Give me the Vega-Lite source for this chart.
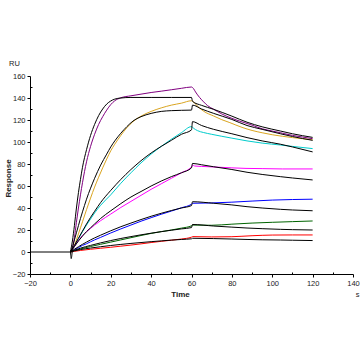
{
"$schema": "https://vega.github.io/schema/vega-lite/v6.json",
"width": 323, "height": 198,
"autosize": {"type": "none"},
"padding": {"left": 30, "top": 76, "right": 9, "bottom": 88},
"background": "white",
"config": {"view": {"stroke": null}, "font": "Liberation Sans"},
"datasets": {
"measured": [
{"series":"D1","time":0,"response":0},{"series":"D1","time":1,"response":4},{"series":"D1","time":2,"response":13},{"series":"D1","time":3,"response":27},{"series":"D1","time":4,"response":40},{"series":"D1","time":5,"response":52},{"series":"D1","time":6,"response":63},{"series":"D1","time":8,"response":82},{"series":"D1","time":10,"response":96},{"series":"D1","time":12,"response":107},{"series":"D1","time":14,"response":116},{"series":"D1","time":16,"response":123},{"series":"D1","time":18,"response":129},{"series":"D1","time":20,"response":134},{"series":"D1","time":22,"response":137.5},{"series":"D1","time":25,"response":140.2},{"series":"D1","time":30,"response":142},{"series":"D1","time":35,"response":143.5},{"series":"D1","time":40,"response":145},{"series":"D1","time":45,"response":146.2},{"series":"D1","time":50,"response":147.5},{"series":"D1","time":55,"response":148.8},{"series":"D1","time":60,"response":150},{"series":"D1","time":61,"response":148.5},{"series":"D1","time":62,"response":145.5},{"series":"D1","time":64,"response":140.5},{"series":"D1","time":66,"response":136.5},{"series":"D1","time":68,"response":133},{"series":"D1","time":71,"response":129.7},{"series":"D1","time":75,"response":125.5},{"series":"D1","time":80,"response":121.5},{"series":"D1","time":85,"response":118.3},{"series":"D1","time":90,"response":115.3},{"series":"D1","time":95,"response":112},{"series":"D1","time":100,"response":110},{"series":"D1","time":105,"response":108},{"series":"D1","time":110,"response":106},{"series":"D1","time":115,"response":104.5},{"series":"D1","time":120,"response":103},
{"series":"D2","time":0,"response":0},{"series":"D2","time":1,"response":2},{"series":"D2","time":2,"response":6},{"series":"D2","time":3,"response":11},{"series":"D2","time":4,"response":16.5},{"series":"D2","time":5,"response":22},{"series":"D2","time":6,"response":27.5},{"series":"D2","time":8,"response":38.5},{"series":"D2","time":10,"response":49},{"series":"D2","time":12,"response":59},{"series":"D2","time":14,"response":68},{"series":"D2","time":16,"response":76.5},{"series":"D2","time":18,"response":84.5},{"series":"D2","time":20,"response":92},{"series":"D2","time":22,"response":98},{"series":"D2","time":25,"response":106},{"series":"D2","time":28,"response":113},{"series":"D2","time":31,"response":118.5},{"series":"D2","time":35,"response":123.5},{"series":"D2","time":40,"response":127.8},{"series":"D2","time":45,"response":131},{"series":"D2","time":50,"response":133.5},{"series":"D2","time":55,"response":135.3},{"series":"D2","time":60,"response":137.5},{"series":"D2","time":61,"response":136.4},{"series":"D2","time":63,"response":132.5},{"series":"D2","time":66,"response":128},{"series":"D2","time":71,"response":123.6},{"series":"D2","time":75,"response":120.3},{"series":"D2","time":79,"response":117.6},{"series":"D2","time":85,"response":113.3},{"series":"D2","time":90,"response":110.5},{"series":"D2","time":95,"response":108.4},{"series":"D2","time":100,"response":106.6},{"series":"D2","time":105,"response":105.2},{"series":"D2","time":110,"response":104},{"series":"D2","time":115,"response":103},{"series":"D2","time":120,"response":102},
{"series":"D3","time":0,"response":0},{"series":"D3","time":2,"response":5},{"series":"D3","time":4,"response":12},{"series":"D3","time":6,"response":18.5},{"series":"D3","time":8,"response":24.5},{"series":"D3","time":10,"response":30},{"series":"D3","time":12,"response":35.5},{"series":"D3","time":15,"response":42.5},{"series":"D3","time":20,"response":52},{"series":"D3","time":25,"response":62.5},{"series":"D3","time":30,"response":72},{"series":"D3","time":35,"response":81},{"series":"D3","time":40,"response":89},{"series":"D3","time":45,"response":96},{"series":"D3","time":50,"response":102.5},{"series":"D3","time":55,"response":108.5},{"series":"D3","time":60,"response":114},{"series":"D3","time":61,"response":112.5},{"series":"D3","time":63,"response":110.3},{"series":"D3","time":66,"response":108.6},{"series":"D3","time":70,"response":107},{"series":"D3","time":80,"response":103.5},{"series":"D3","time":87.5,"response":101},{"series":"D3","time":95,"response":99},{"series":"D3","time":104,"response":97.3},{"series":"D3","time":110,"response":96},{"series":"D3","time":120,"response":94},
{"series":"D4","time":0,"response":0},{"series":"D4","time":2,"response":5},{"series":"D4","time":4,"response":10.5},{"series":"D4","time":6,"response":15},{"series":"D4","time":8,"response":18.5},{"series":"D4","time":10,"response":21.5},{"series":"D4","time":12,"response":24.5},{"series":"D4","time":15,"response":28.5},{"series":"D4","time":20,"response":34.5},{"series":"D4","time":25,"response":40.5},{"series":"D4","time":30,"response":46},{"series":"D4","time":35,"response":51.5},{"series":"D4","time":40,"response":57},{"series":"D4","time":45,"response":62},{"series":"D4","time":50,"response":67},{"series":"D4","time":55,"response":72},{"series":"D4","time":60,"response":77.5},{"series":"D4","time":60.5,"response":79},{"series":"D4","time":61.5,"response":78.2},{"series":"D4","time":65,"response":77.8},{"series":"D4","time":71,"response":77.3},{"series":"D4","time":80,"response":76.5},{"series":"D4","time":87,"response":76},{"series":"D4","time":95,"response":75.8},{"series":"D4","time":105,"response":75.5},{"series":"D4","time":120,"response":75.5},
{"series":"D5","time":0,"response":0},{"series":"D5","time":2,"response":2},{"series":"D5","time":4,"response":4},{"series":"D5","time":6,"response":6},{"series":"D5","time":8,"response":7.5},{"series":"D5","time":10,"response":9.3},{"series":"D5","time":12,"response":11},{"series":"D5","time":15,"response":13.3},{"series":"D5","time":20,"response":17.3},{"series":"D5","time":25,"response":21},{"series":"D5","time":30,"response":24.5},{"series":"D5","time":35,"response":28},{"series":"D5","time":40,"response":31.2},{"series":"D5","time":45,"response":34.3},{"series":"D5","time":50,"response":37.2},{"series":"D5","time":55,"response":40.2},{"series":"D5","time":60,"response":43.5},{"series":"D5","time":60.5,"response":44.3},{"series":"D5","time":70,"response":44.6},{"series":"D5","time":80,"response":45.3},{"series":"D5","time":90,"response":46.3},{"series":"D5","time":100,"response":47.2},{"series":"D5","time":110,"response":47.7},{"series":"D5","time":120,"response":48},
{"series":"D6","time":0,"response":0},{"series":"D6","time":2,"response":1.2},{"series":"D6","time":5,"response":2.8},{"series":"D6","time":10,"response":5},{"series":"D6","time":15,"response":7},{"series":"D6","time":20,"response":9},{"series":"D6","time":25,"response":11},{"series":"D6","time":30,"response":13},{"series":"D6","time":35,"response":15},{"series":"D6","time":40,"response":16.9},{"series":"D6","time":45,"response":18.5},{"series":"D6","time":50,"response":20},{"series":"D6","time":55,"response":21.7},{"series":"D6","time":60,"response":23.8},{"series":"D6","time":60.5,"response":24.5},{"series":"D6","time":70,"response":24.3},{"series":"D6","time":80,"response":25.3},{"series":"D6","time":90,"response":26.3},{"series":"D6","time":100,"response":27},{"series":"D6","time":110,"response":27.6},{"series":"D6","time":120,"response":28.2},
{"series":"D7","time":0,"response":0},{"series":"D7","time":2,"response":0.6},{"series":"D7","time":5,"response":1.4},{"series":"D7","time":10,"response":2.5},{"series":"D7","time":15,"response":3.4},{"series":"D7","time":20,"response":4.3},{"series":"D7","time":25,"response":5.3},{"series":"D7","time":30,"response":6.3},{"series":"D7","time":35,"response":7.4},{"series":"D7","time":40,"response":8.6},{"series":"D7","time":45,"response":9.7},{"series":"D7","time":50,"response":10.7},{"series":"D7","time":55,"response":11.8},{"series":"D7","time":60,"response":13.5},{"series":"D7","time":60.5,"response":14},{"series":"D7","time":70,"response":13.7},{"series":"D7","time":80,"response":13.9},{"series":"D7","time":90,"response":14.8},{"series":"D7","time":100,"response":15.4},{"series":"D7","time":110,"response":15.5},{"series":"D7","time":120,"response":15.5}
],
"fit": [
{"series":"B","time":-20,"response":0},{"series":"B","time":0,"response":0},{"series":"B","time":0.4,"response":-6},{"series":"B","time":0.9,"response":0},
{"series":"F1","time":0,"response":0},{"series":"F1","time":1,"response":10},{"series":"F1","time":2,"response":24},{"series":"F1","time":3,"response":40},{"series":"F1","time":4,"response":54},{"series":"F1","time":5,"response":66},{"series":"F1","time":6,"response":77},{"series":"F1","time":8,"response":93},{"series":"F1","time":10,"response":106},{"series":"F1","time":12,"response":116},{"series":"F1","time":14,"response":124},{"series":"F1","time":16,"response":130},{"series":"F1","time":18,"response":134.5},{"series":"F1","time":20,"response":137.3},{"series":"F1","time":22,"response":139},{"series":"F1","time":25,"response":140},{"series":"F1","time":30,"response":140.5},{"series":"F1","time":40,"response":140.5},{"series":"F1","time":50,"response":140.5},{"series":"F1","time":60,"response":140.5},{"series":"F1","time":60.5,"response":137},{"series":"F1","time":65,"response":133.3},{"series":"F1","time":71,"response":129.7},{"series":"F1","time":80,"response":123.5},{"series":"F1","time":87.5,"response":118},{"series":"F1","time":95,"response":113.8},{"series":"F1","time":104,"response":110},{"series":"F1","time":110,"response":107.5},{"series":"F1","time":120,"response":104.2},
{"series":"F2","time":0,"response":0},{"series":"F2","time":1,"response":4},{"series":"F2","time":2,"response":11},{"series":"F2","time":3,"response":17.5},{"series":"F2","time":4,"response":24},{"series":"F2","time":5,"response":30.5},{"series":"F2","time":6,"response":36.5},{"series":"F2","time":8,"response":48},{"series":"F2","time":10,"response":58},{"series":"F2","time":12,"response":67},{"series":"F2","time":15,"response":79},{"series":"F2","time":18,"response":89},{"series":"F2","time":20,"response":95.5},{"series":"F2","time":22,"response":101},{"series":"F2","time":25,"response":108},{"series":"F2","time":28,"response":114},{"series":"F2","time":31,"response":119},{"series":"F2","time":35,"response":123},{"series":"F2","time":40,"response":126},{"series":"F2","time":45,"response":127.8},{"series":"F2","time":50,"response":128.5},{"series":"F2","time":55,"response":128.8},{"series":"F2","time":60,"response":129},{"series":"F2","time":60.5,"response":133.5},{"series":"F2","time":65,"response":130},{"series":"F2","time":71,"response":126},{"series":"F2","time":80,"response":120.5},{"series":"F2","time":87.5,"response":115},{"series":"F2","time":95,"response":111.5},{"series":"F2","time":104,"response":107.5},{"series":"F2","time":110,"response":105},{"series":"F2","time":120,"response":101.5},
{"series":"F3","time":0,"response":0},{"series":"F3","time":2,"response":6},{"series":"F3","time":4,"response":12.5},{"series":"F3","time":6,"response":19},{"series":"F3","time":8,"response":25.5},{"series":"F3","time":10,"response":31.5},{"series":"F3","time":12,"response":37},{"series":"F3","time":15,"response":45},{"series":"F3","time":20,"response":56},{"series":"F3","time":25,"response":66},{"series":"F3","time":30,"response":75},{"series":"F3","time":35,"response":83},{"series":"F3","time":40,"response":90},{"series":"F3","time":45,"response":96},{"series":"F3","time":50,"response":101.5},{"series":"F3","time":55,"response":107},{"series":"F3","time":60,"response":111},{"series":"F3","time":60.5,"response":118.5},{"series":"F3","time":65,"response":115},{"series":"F3","time":71,"response":111.5},{"series":"F3","time":80,"response":107.5},{"series":"F3","time":87.5,"response":104},{"series":"F3","time":95,"response":101},{"series":"F3","time":104,"response":98},{"series":"F3","time":110,"response":95.5},{"series":"F3","time":120,"response":91},
{"series":"F4","time":0,"response":0},{"series":"F4","time":2,"response":5},{"series":"F4","time":4,"response":10},{"series":"F4","time":6,"response":14.5},{"series":"F4","time":8,"response":18.5},{"series":"F4","time":10,"response":22},{"series":"F4","time":12,"response":25.5},{"series":"F4","time":15,"response":30.5},{"series":"F4","time":20,"response":37.5},{"series":"F4","time":25,"response":44},{"series":"F4","time":30,"response":50},{"series":"F4","time":35,"response":55},{"series":"F4","time":40,"response":60},{"series":"F4","time":45,"response":64.5},{"series":"F4","time":50,"response":68.5},{"series":"F4","time":55,"response":72},{"series":"F4","time":60,"response":76.5},{"series":"F4","time":60.5,"response":80.5},{"series":"F4","time":65,"response":79.3},{"series":"F4","time":71,"response":77.5},{"series":"F4","time":80,"response":75},{"series":"F4","time":87.5,"response":72.5},{"series":"F4","time":95,"response":70.5},{"series":"F4","time":104,"response":68.5},{"series":"F4","time":110,"response":67.3},{"series":"F4","time":120,"response":65.5},
{"series":"F5","time":0,"response":0},{"series":"F5","time":2,"response":2.5},{"series":"F5","time":4,"response":4.8},{"series":"F5","time":6,"response":7},{"series":"F5","time":8,"response":9},{"series":"F5","time":10,"response":11},{"series":"F5","time":12,"response":12.8},{"series":"F5","time":15,"response":15.3},{"series":"F5","time":20,"response":19.3},{"series":"F5","time":25,"response":23},{"series":"F5","time":30,"response":26.3},{"series":"F5","time":35,"response":29.5},{"series":"F5","time":40,"response":32.5},{"series":"F5","time":45,"response":35.2},{"series":"F5","time":50,"response":37.7},{"series":"F5","time":55,"response":40},{"series":"F5","time":60,"response":42.2},{"series":"F5","time":60.5,"response":45.7},{"series":"F5","time":71,"response":44.3},{"series":"F5","time":80,"response":42.8},{"series":"F5","time":87.5,"response":41.2},{"series":"F5","time":95,"response":40},{"series":"F5","time":104,"response":38.8},{"series":"F5","time":110,"response":38.2},{"series":"F5","time":120,"response":37.5},
{"series":"F6","time":0,"response":0},{"series":"F6","time":2,"response":1.5},{"series":"F6","time":5,"response":3.5},{"series":"F6","time":10,"response":6},{"series":"F6","time":15,"response":8.3},{"series":"F6","time":20,"response":10.4},{"series":"F6","time":25,"response":12.3},{"series":"F6","time":30,"response":14},{"series":"F6","time":35,"response":15.6},{"series":"F6","time":40,"response":17.1},{"series":"F6","time":45,"response":18.5},{"series":"F6","time":50,"response":19.8},{"series":"F6","time":55,"response":21},{"series":"F6","time":60,"response":22.2},{"series":"F6","time":60.5,"response":25},{"series":"F6","time":71,"response":23.6},{"series":"F6","time":80,"response":22.6},{"series":"F6","time":87.5,"response":21.8},{"series":"F6","time":95,"response":21.2},{"series":"F6","time":104,"response":20.6},{"series":"F6","time":110,"response":20.3},{"series":"F6","time":120,"response":20},
{"series":"F7","time":0,"response":0},{"series":"F7","time":2,"response":1},{"series":"F7","time":5,"response":2.2},{"series":"F7","time":10,"response":3.6},{"series":"F7","time":15,"response":4.8},{"series":"F7","time":20,"response":5.9},{"series":"F7","time":25,"response":6.9},{"series":"F7","time":30,"response":7.8},{"series":"F7","time":35,"response":8.6},{"series":"F7","time":40,"response":9.4},{"series":"F7","time":45,"response":10.1},{"series":"F7","time":50,"response":10.8},{"series":"F7","time":55,"response":11.4},{"series":"F7","time":60,"response":12},{"series":"F7","time":60.5,"response":12.5},{"series":"F7","time":71,"response":12.2},{"series":"F7","time":80,"response":11.8},{"series":"F7","time":87.5,"response":11.4},{"series":"F7","time":95,"response":11.1},{"series":"F7","time":104,"response":10.9},{"series":"F7","time":110,"response":10.7},{"series":"F7","time":120,"response":10.4}
]
},
"layer": [
{
"data": {"name": "measured"},
"mark": {"type": "line", "strokeWidth": 1, "interpolate": "monotone"},
"encoding": {
"x": {"field": "time", "type": "quantitative", "scale": {"domain": [-20, 140], "nice": false, "zero": false},
"axis": {"orient": "bottom", "values": [-20,0,20,40,60,80,100,120,140], "grid": false, "tickSize": 3, "labelPadding": 2, "labelFontSize": 7.5, "labelColor": "#222", "domainColor": "black", "tickColor": "black", "labelFlush": false,
"title": "Time", "titleFontSize": 8, "titleFontWeight": "bold", "titleColor": "#222", "titleX": 150, "titleY": 20, "titleBaseline": "middle", "titleAlign": "center"}},
"y": {"field": "response", "type": "quantitative", "scale": {"domain": [-20, 160], "nice": false, "zero": false},
"axis": {"orient": "left", "values": [-20,0,20,40,60,80,100,120,140,160], "grid": false, "tickSize": 3, "labelPadding": 2, "labelFontSize": 7.5, "labelColor": "#222", "domainColor": "black", "tickColor": "black", "labelFlush": false,
"title": "Response", "titleFontSize": 8, "titleFontWeight": "bold", "titleColor": "#222", "titleX": -22, "titleY": 102, "titleAngle": -90, "titleBaseline": "middle", "titleAlign": "center"}},
"color": {"field": "series", "type": "nominal", "legend": null,
"scale": {"domain": ["D1","D2","D3","D4","D5","D6","D7"], "range": ["#800080","#DAA520","#00CCCC","#FF00FF","#0000FF","#006400","#FF0000"]}}
}
},
{
"data": {"name": "fit"},
"mark": {"type": "line", "strokeWidth": 1, "color": "black", "interpolate": "monotone"},
"encoding": {
"x": {"field": "time", "type": "quantitative", "scale": {"domain": [-20, 140], "nice": false, "zero": false},
"axis": {"orient": "bottom", "values": [-10,10,30,50,70,90,110,130], "grid": false, "domain": false, "labels": false, "tickSize": -2, "tickColor": "black",
"title": "s", "titleFontSize": 7.5, "titleFontWeight": "normal", "titleColor": "#222", "titleX": 327, "titleY": 20, "titleBaseline": "middle", "titleAlign": "center"}},
"y": {"field": "response", "type": "quantitative", "scale": {"domain": [-20, 160], "nice": false, "zero": false},
"axis": {"orient": "left", "values": [-10,10,30,50,70,90,110,130,150], "grid": false, "domain": false, "labels": false, "tickSize": -2, "tickColor": "black",
"title": "RU", "titleFontSize": 7.5, "titleFontWeight": "normal", "titleColor": "#222", "titleX": -16, "titleY": -12.5, "titleAngle": 0, "titleBaseline": "middle", "titleAlign": "center"}},
"detail": {"field": "series", "type": "nominal"}
}
}
],
"resolve": {"axis": {"x": "independent", "y": "independent"}}
}
